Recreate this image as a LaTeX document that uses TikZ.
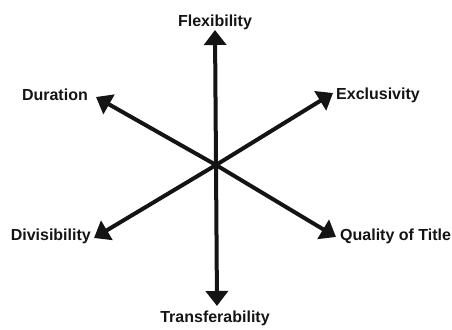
\documentclass[tikz,border=0pt]{standalone}
\usepackage{fontspec}
\setmainfont{Liberation Sans}
\usetikzlibrary{arrows.meta}
\begin{document}
\begin{tikzpicture}[x=1pt,y=1pt,
  axis/.style={line width=4pt,color=black!92,-{Triangle[width=22pt,length=15pt]}},
  lbl/.style={inner sep=0pt,font=\fontsize{16}{19}\selectfont\bfseries,text=black!92}]
\useasboundingbox (0,0) rectangle (452,329);
\coordinate (c) at (216,164);
\coordinate (tFlex) at (215,299);
\coordinate (tTrans) at (217,23);
\coordinate (tDur) at (96,232);
\coordinate (tExc) at (333,236);
\coordinate (tDiv) at (94,91);
\coordinate (tQual) at (336,92);
\node[lbl,anchor=base] (flex) at (215,302) {Flexibility};
\node[lbl,anchor=base] (trans) at (215,6) {Transferability};
\node[lbl,anchor=base east] (dur) at (88,228) {Duration};
\node[lbl,anchor=base west] (exc) at (336,229) {Exclusivity};
\node[lbl,anchor=base east] (div) at (91,88) {Divisibility};
\node[lbl,anchor=base west] (qual) at (340,88) {Quality of Title};
\draw[axis] (c) -- (tFlex);
\draw[axis] (c) -- (tTrans);
\draw[axis] (c) -- (tDur);
\draw[axis] (c) -- (tExc);
\draw[axis] (c) -- (tDiv);
\draw[axis] (c) -- (tQual);
\end{tikzpicture}
\end{document}
